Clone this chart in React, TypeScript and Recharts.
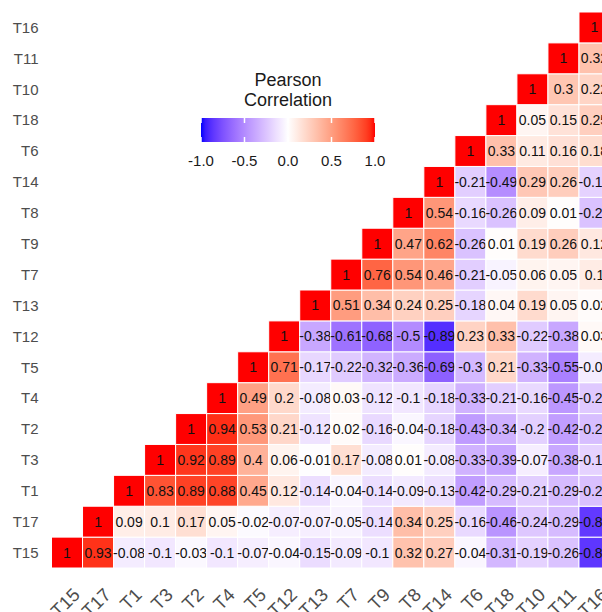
import React from 'react';
import { ScatterChart, Scatter, XAxis, YAxis } from 'recharts';

// variable order, left-to-right on x and bottom-to-top on y
const names = ['T15', 'T17', 'T1', 'T3', 'T2', 'T4', 'T5', 'T12', 'T13', 'T7', 'T9', 'T8', 'T14', 'T6', 'T18', 'T10', 'T11', 'T16'];

// each row starts at its own diagonal cell and runs to the T16 column
const rowT15 = [1, 0.93, -0.08, -0.1, -0.03, -0.1, -0.07, -0.04, -0.15, -0.09, -0.1, 0.32, 0.27, -0.04, -0.31, -0.19, -0.26, -0.86];
const rowT17 = [1, 0.09, 0.1, 0.17, 0.05, -0.02, -0.07, -0.07, -0.05, -0.14, 0.34, 0.25, -0.16, -0.46, -0.24, -0.29, -0.85];
const rowT1 = [1, 0.83, 0.89, 0.88, 0.45, 0.12, -0.14, -0.04, -0.14, -0.09, -0.13, -0.42, -0.29, -0.21, -0.29, -0.27];
const rowT3 = [1, 0.92, 0.89, 0.4, 0.06, -0.01, 0.17, -0.08, 0.01, -0.08, -0.33, -0.39, -0.07, -0.38, -0.19];
const rowT2 = [1, 0.94, 0.53, 0.21, -0.12, 0.02, -0.16, -0.04, -0.18, -0.43, -0.34, -0.2, -0.42, -0.28];
const rowT4 = [1, 0.49, 0.2, -0.08, 0.03, -0.12, -0.1, -0.18, -0.33, -0.21, -0.16, -0.45, -0.23];
const rowT5 = [1, 0.71, -0.17, -0.22, -0.32, -0.36, -0.69, -0.3, 0.21, -0.33, -0.55, -0.08];
const rowT12 = [1, -0.38, -0.61, -0.68, -0.5, -0.89, 0.23, 0.33, -0.22, -0.38, 0.03];
const rowT13 = [1, 0.51, 0.34, 0.24, 0.25, -0.18, 0.04, 0.19, 0.05, 0.02];
const rowT7 = [1, 0.76, 0.54, 0.46, -0.21, -0.05, 0.06, 0.05, 0.1];
const rowT9 = [1, 0.47, 0.62, -0.26, 0.01, 0.19, 0.26, 0.12];
const rowT8 = [1, 0.54, -0.16, -0.26, 0.09, 0.01, -0.26];
const rowT14 = [1, -0.21, -0.49, 0.29, 0.26, -0.19];
const rowT6 = [1, 0.33, 0.11, 0.16, 0.18];
const rowT18 = [1, 0.05, 0.15, 0.25];
const rowT10 = [1, 0.3, 0.22];
const rowT11 = [1, 0.32];
const rowT16 = [1];

const rows = [rowT15, rowT17, rowT1, rowT3, rowT2, rowT4, rowT5, rowT12, rowT13, rowT7, rowT9, rowT8, rowT14, rowT6, rowT18, rowT10, rowT11, rowT16];

const legendTicks = [-1, -0.5, 0, 0.5, 1];

const cells = rows.flatMap((row, i) => row.map((v, k) => ({ x: i + k, y: i, v })));
const idx = names.map((_, i) => i);

// blue - white - red, mixed in CIELAB like ggplot's gradient2
const toLin = (c: number) => { c /= 255; return c <= 0.04045 ? c / 12.92 : ((c + 0.055) / 1.055) ** 2.4; };
const fromLin = (c: number) => { const s = c <= 0.0031308 ? 12.92 * c : 1.055 * c ** (1 / 2.4) - 0.055; return Math.round(Math.min(1, Math.max(0, s)) * 255); };
const Xn = 0.95047, Yn = 1, Zn = 1.08883;
const f = (t: number) => (t > 216 / 24389 ? Math.cbrt(t) : (24389 / 27 * t + 16) / 116);
const fi = (t: number) => (t ** 3 > 216 / 24389 ? t ** 3 : (116 * t - 16) / (24389 / 27));
const lab = ([r, g, b]: number[]) => {
  const R = toLin(r), G = toLin(g), B = toLin(b);
  const X = 0.4124 * R + 0.3576 * G + 0.1805 * B;
  const Y = 0.2126 * R + 0.7152 * G + 0.0722 * B;
  const Z = 0.0193 * R + 0.1192 * G + 0.9505 * B;
  const fx = f(X / Xn), fy = f(Y / Yn), fz = f(Z / Zn);
  return [116 * fy - 16, 500 * (fx - fy), 200 * (fy - fz)];
};
const rgb = ([L, a, bb]: number[]) => {
  const fy = (L + 16) / 116, fx = fy + a / 500, fz = fy - bb / 200;
  const X = Xn * fi(fx), Y = Yn * fi(fy), Z = Zn * fi(fz);
  const R = 3.2406 * X - 1.5372 * Y - 0.4986 * Z;
  const G = -0.9689 * X + 1.8758 * Y + 0.0415 * Z;
  const B = 0.0557 * X - 0.204 * Y + 1.057 * Z;
  return `rgb(${fromLin(R)},${fromLin(G)},${fromLin(B)})`;
};
const WHITE = lab([255, 255, 255]), RED = lab([255, 0, 0]), BLUE = lab([0, 0, 255]);
const fillFor = (v: number) => {
  const end = v < 0 ? BLUE : RED;
  const t = Math.abs(v);
  return rgb(WHITE.map((w, i) => w + (end[i] - w) * t));
};

const W = 620, H = 612;
const M = { top: 12, right: 10, left: 0, bottom: 0 };
const Y_W = 51.5, X_H = 44;
const CELL_W = (W - M.left - M.right - Y_W) / names.length;
const CELL_H = (H - M.top - M.bottom - X_H) / names.length;

const Cell = (props: any) => {
  const { cx, cy, payload } = props;
  return (
    <g>
      <rect x={cx - CELL_W / 2} y={cy - CELL_H / 2} width={CELL_W} height={CELL_H} fill={fillFor(payload.v)} stroke="#fff" strokeWidth={1} />
      <text x={cx} y={cy} textAnchor="middle" dominantBaseline="central" fontSize={14} fill="#111">{String(payload.v)}</text>
    </g>
  );
};

const XTick = (props: any) => {
  const { x, y, payload } = props;
  return (
    <g transform={`translate(${x + 14},${y + 26}) rotate(-45)`}>
      <text x={0} y={0} textAnchor="end" fontSize={18.5} fill="#4d4d4d">{names[payload.value]}</text>
    </g>
  );
};

const Legend = () => {
  const x0 = 201, x1 = 375, top = 118, h = 24;
  const sx = (v: number) => x0 + ((v + 1) / 2) * (x1 - x0);
  const stops = Array.from({ length: 41 }, (_, i) => -1 + i * 0.05);
  return (
    <svg width={602} height={200} style={{ position: 'absolute', left: 0, top: 0 }}>
      <defs>
        <linearGradient id="corr">
          {stops.map((s) => <stop key={s} offset={`${((s + 1) / 2) * 100}%`} stopColor={fillFor(s)} />)}
        </linearGradient>
      </defs>
      <text x={288} y={80} textAnchor="middle" dominantBaseline="central" fontSize={18} fill="#1a1a1a">Pearson</text>
      <text x={288} y={100} textAnchor="middle" dominantBaseline="central" fontSize={18} fill="#1a1a1a">Correlation</text>
      <rect x={x0} y={top} width={x1 - x0} height={h} fill="url(#corr)" />
      {legendTicks.map((t) => (
        <g key={t}>
          <line x1={sx(t)} x2={sx(t)} y1={top} y2={top + 5} stroke="#fff" strokeWidth={1.5} />
          <line x1={sx(t)} x2={sx(t)} y1={top + h - 5} y2={top + h} stroke="#fff" strokeWidth={1.5} />
          <text x={sx(t)} y={160} textAnchor="middle" dominantBaseline="central" fontSize={15} fill="#1a1a1a">{t.toFixed(1)}</text>
        </g>
      ))}
    </svg>
  );
};

export default function App() {
  return (
    <div style={{ position: 'fixed', left: 0, top: 0, width: 602, height: 612, overflow: 'hidden', background: '#fff', fontFamily: '"Liberation Sans", Arial, sans-serif' }}>
      <ScatterChart width={W} height={H} margin={M}>
        <XAxis type="number" dataKey="x" domain={[-0.5, names.length - 0.5]} ticks={idx} interval={0}
          height={X_H} tickLine={false} axisLine={false} tickSize={0} tick={<XTick />} />
        <YAxis type="number" dataKey="y" domain={[-0.5, names.length - 0.5]} ticks={idx} interval={0}
          width={Y_W} tickLine={false} axisLine={false} tickSize={0} tickMargin={13}
          tickFormatter={(i: number) => names[i]} tick={{ fontSize: 15, fill: '#4d4d4d' }} />
        <Scatter data={cells} shape={<Cell />} isAnimationActive={false} />
      </ScatterChart>
      <Legend />
    </div>
  );
}
